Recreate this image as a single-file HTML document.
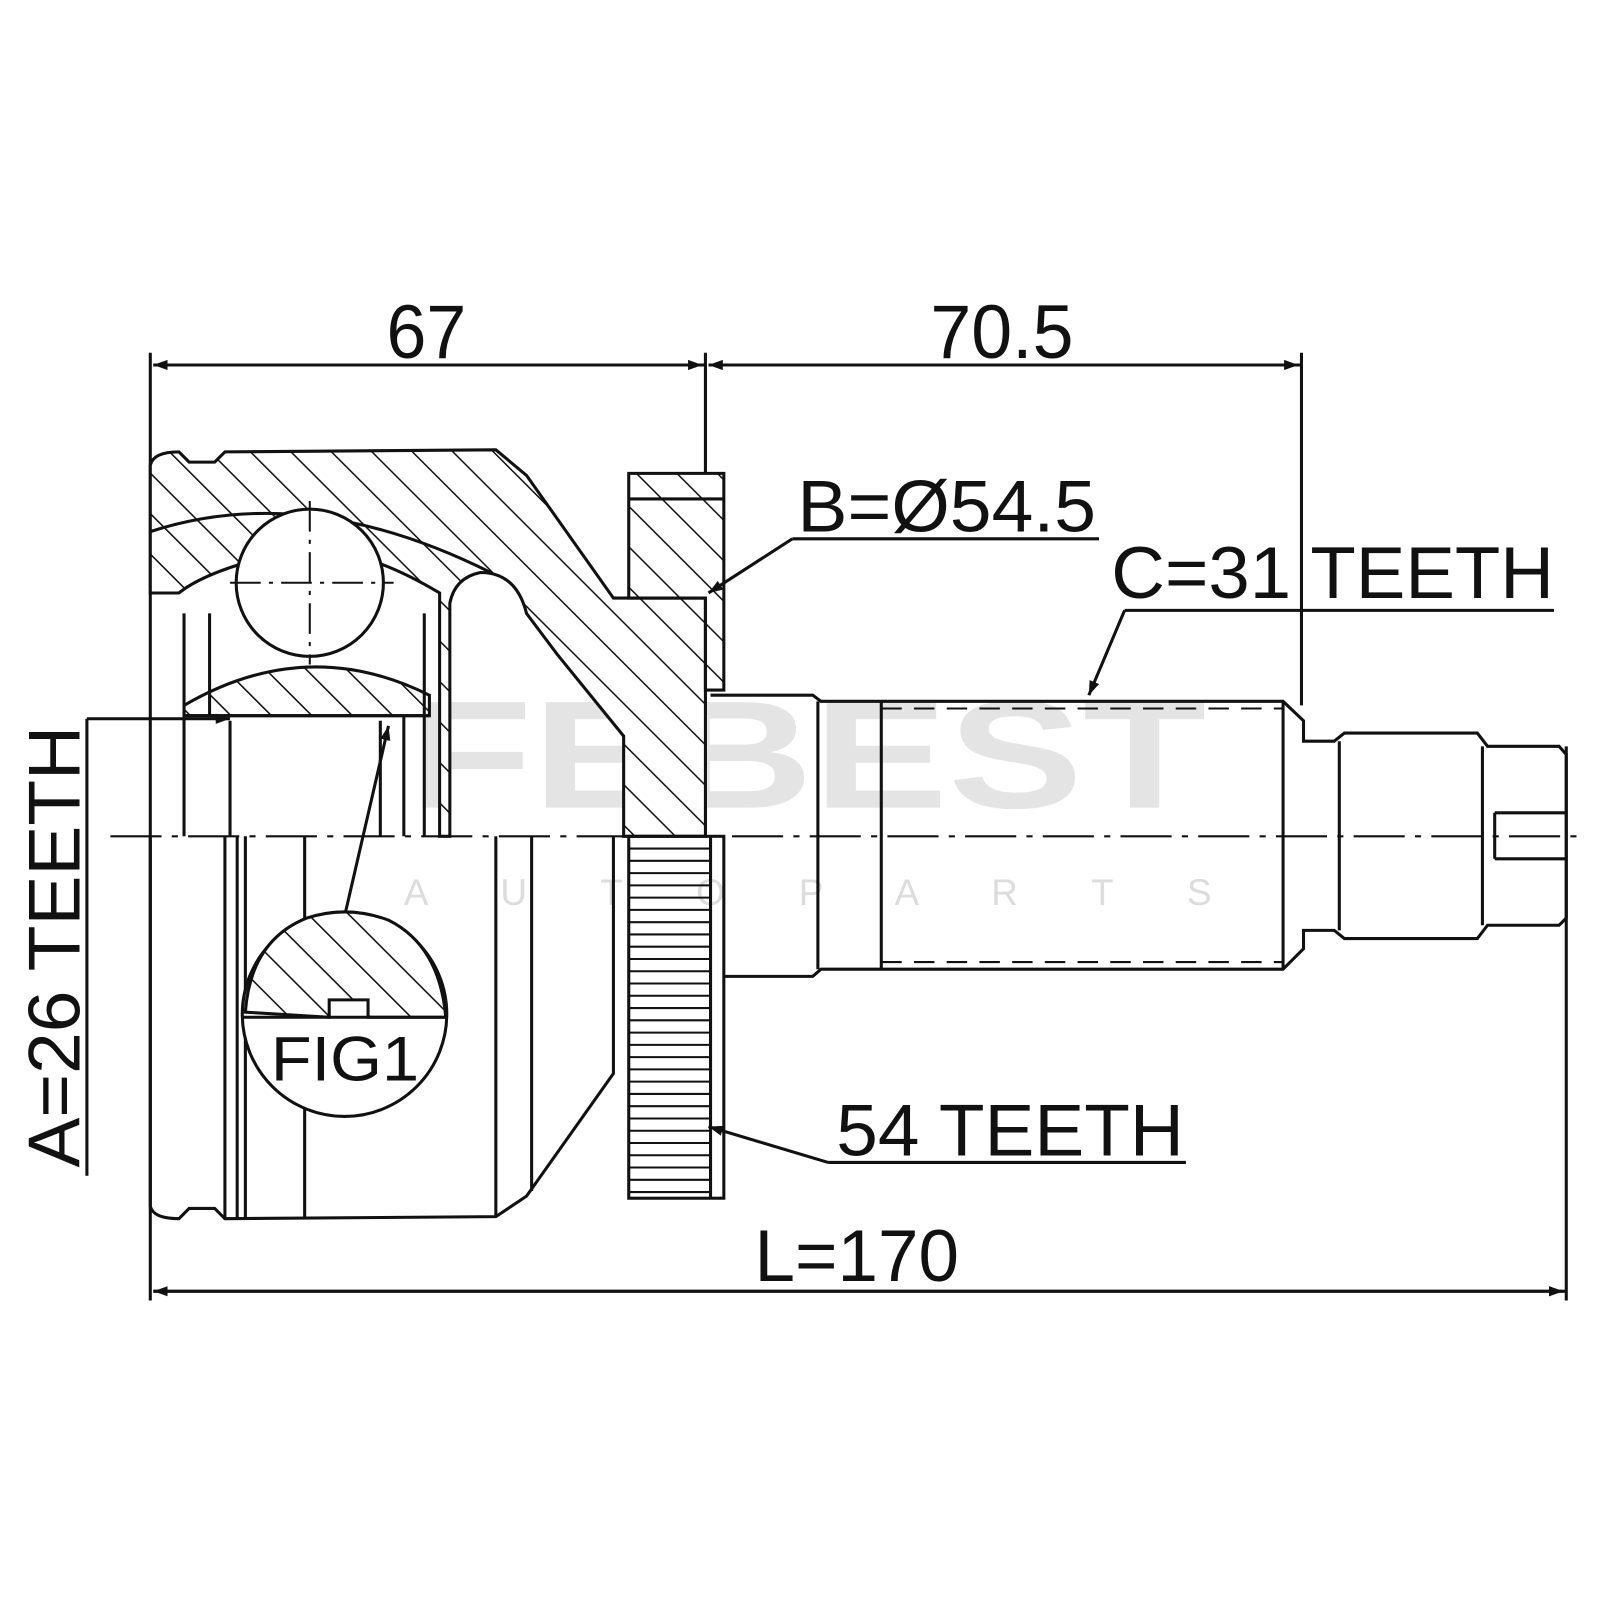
<!DOCTYPE html>
<html><head><meta charset="utf-8"><style>
html,body{margin:0;padding:0;background:#fff;}
svg{display:block}
text{font-family:"Liberation Sans",Arial,sans-serif;fill:#111}
</style></head><body>
<svg width="1600" height="1600" viewBox="0 0 1565 1565" xmlns="http://www.w3.org/2000/svg">
<defs>
<pattern id="h" width="28" height="28" patternUnits="userSpaceOnUse" patternTransform="rotate(-45)">
<rect width="28" height="28" fill="#fff"/><line x1="0" y1="0" x2="0" y2="28" stroke="#111" stroke-width="3"/>
</pattern>
<marker id="a" markerWidth="14" markerHeight="10" refX="14" refY="5" orient="auto" markerUnits="userSpaceOnUse" viewBox="0 0 14 10">
<path d="M0,0 L14,5 L0,10 z" fill="#111"/></marker>
</defs>
<text x="400" y="790" font-size="150" font-weight="bold" style="fill:#e4e4e4" textLength="780" lengthAdjust="spacingAndGlyphs">FEBEST</text>
<text x="395" y="885" font-size="36" style="fill:#dcdcdc" textLength="790" lengthAdjust="spacing">A U T O P A R T S</text>

<g stroke="#111" stroke-width="3" fill="none">
<line x1="147" y1="345" x2="147" y2="1272"/>
<line x1="690" y1="345" x2="690" y2="590"/>
<line x1="1273" y1="345" x2="1273" y2="690"/>
<line x1="1532" y1="730" x2="1532" y2="1272"/>
<path d="M147,455 Q150,442 175,442 L185,452 L210,452 L220,442 L485,440 L515,465 L600,585 L690,585 L690,818 L610,818 L610,720 L545,640 L515,600 Q505,560 470,560 Q445,565 440,590 L440,818 L430,818 L430,580 Q330,520 260,545 Q200,560 175,580 L147,580 Z" fill="url(#h)"/>
<path d="M147,520 Q300,470 480,560" />
<path d="M180,690 Q300,620 420,680 L420,700 L180,700 Z" fill="url(#h)"/>
<circle cx="303" cy="570" r="72" fill="#fff"/>
<line x1="225" y1="570" x2="385" y2="570" stroke-width="2" stroke-dasharray="30,8,4,8"/>
<line x1="303" y1="490" x2="303" y2="650" stroke-width="2" stroke-dasharray="30,8,4,8"/>
<line x1="180" y1="600" x2="180" y2="818"/><line x1="205" y1="600" x2="205" y2="700"/>
<line x1="415" y1="600" x2="415" y2="818"/><line x1="395" y1="700" x2="395" y2="818"/>
<line x1="225" y1="705" x2="225" y2="818"/><line x1="372" y1="705" x2="372" y2="818"/>
<line x1="180" y1="700" x2="420" y2="700"/>
<path d="M615,463 L708,463 L708,675 L690,675 L690,585 L615,585 Z" fill="url(#h)"/>
<line x1="615" y1="488" x2="708" y2="488"/>
<path d="M147,818 L147,1180 Q150,1192 175,1192 L185,1182 L210,1182 L220,1192 L485,1190 L515,1170 L600,1050 L600,818"/>
<line x1="220" y1="818" x2="220" y2="1192"/><line x1="232" y1="818" x2="232" y2="1192"/><line x1="240" y1="818" x2="240" y2="1192"/>
<line x1="298" y1="818" x2="298" y2="1192"/><line x1="485" y1="818" x2="485" y2="1190"/><line x1="520" y1="818" x2="520" y2="1165"/>
<g stroke-width="2">
<path d="M615,830 H695 M615,842 H695 M615,854 H695 M615,866 H695 M615,878 H695 M615,890 H695 M615,902 H695 M615,914 H695 M615,926 H695 M615,938 H695 M615,950 H695 M615,962 H695 M615,974 H695 M615,986 H695 M615,998 H695 M615,1010 H695 M615,1022 H695 M615,1034 H695 M615,1046 H695 M615,1058 H695 M615,1070 H695 M615,1082 H695 M615,1094 H695 M615,1106 H695 M615,1118 H695 M615,1130 H695 M615,1142 H695 M615,1154 H695 M615,1166 H695"/>
</g>
<rect x="615" y="818" width="93" height="354"/>
<line x1="695" y1="818" x2="695" y2="1172"/>
<path d="M695,680 L795,680 L803,686 L862,686 L1255,686 L1275,705 L1275,725 L1305,725 L1315,717 L1445,717 L1455,730 L1525,730 L1532,738 L1532,898 L1525,905 L1455,905 L1445,918 L1315,918 L1305,910 L1275,910 L1275,928 L1255,948 L862,948 L803,948 L795,955 L708,955"/>
<line x1="800" y1="686" x2="800" y2="948"/><line x1="862" y1="686" x2="862" y2="948"/>
<line x1="1255" y1="686" x2="1255" y2="948"/><line x1="1310" y1="725" x2="1310" y2="910"/>
<line x1="1450" y1="730" x2="1450" y2="905"/><line x1="1462" y1="795" x2="1532" y2="795"/><line x1="1462" y1="840" x2="1532" y2="840"/><line x1="1462" y1="795" x2="1462" y2="840"/>
<line x1="862" y1="693" x2="1255" y2="693" stroke-width="2" stroke-dasharray="20,12"/>
<line x1="862" y1="941" x2="1255" y2="941" stroke-width="2" stroke-dasharray="20,12"/>
<line x1="108" y1="818" x2="1548" y2="818" stroke-width="2" stroke-dasharray="50,10,6,10"/>
<circle cx="337" cy="992" r="100" fill="#fff"/>
<path d="M240,990 Q245,920 300,898 Q340,885 380,900 Q430,925 436,995 L360,995 L360,978 L322,978 L322,995 Z" fill="url(#h)"/>
<line x1="238" y1="995" x2="436" y2="995"/>
<line x1="338" y1="892" x2="380" y2="710" marker-end="url(#a)"/>
<line x1="85" y1="703" x2="85" y2="1150"/><line x1="85" y1="703" x2="225" y2="703" marker-end="url(#a)"/>
<line x1="775" y1="527" x2="1075" y2="527"/><line x1="775" y1="527" x2="693" y2="580" marker-end="url(#a)"/>
<line x1="1100" y1="597" x2="1520" y2="597"/><line x1="1100" y1="597" x2="1065" y2="680" marker-end="url(#a)"/>
<line x1="810" y1="1137" x2="1160" y2="1137"/><line x1="810" y1="1137" x2="693" y2="1102" marker-end="url(#a)"/>
</g>
<line x1="150" y1="357" x2="687" y2="357" stroke="#111" stroke-width="3" marker-end="url(#a)"/>
<line x1="690" y1="357" x2="150" y2="357" stroke="#111" stroke-width="3" marker-end="url(#a)"/>
<line x1="693" y1="357" x2="1270" y2="357" stroke="#111" stroke-width="3" marker-end="url(#a)"/>
<line x1="1273" y1="357" x2="693" y2="357" stroke="#111" stroke-width="3" marker-end="url(#a)"/>
<line x1="150" y1="1263" x2="1529" y2="1263" stroke="#111" stroke-width="3" marker-end="url(#a)"/>
<line x1="1532" y1="1263" x2="150" y2="1263" stroke="#111" stroke-width="3" marker-end="url(#a)"/>
<text x="378" y="350" font-size="74" textLength="78" lengthAdjust="spacingAndGlyphs">67</text>
<text x="910" y="350" font-size="74" textLength="140" lengthAdjust="spacingAndGlyphs">70.5</text>
<text x="738" y="1253" font-size="72" textLength="200" lengthAdjust="spacingAndGlyphs">L=170</text>
<text x="780" y="520" font-size="72" textLength="292" lengthAdjust="spacingAndGlyphs">B=Ø54.5</text>
<text x="1087" y="585" font-size="72" textLength="433" lengthAdjust="spacingAndGlyphs">C=31 TEETH</text>
<text x="818" y="1130" font-size="72" textLength="340" lengthAdjust="spacingAndGlyphs">54 TEETH</text>
<text x="265" y="1057" font-size="62" textLength="145" lengthAdjust="spacingAndGlyphs">FIG1</text>
<text transform="translate(78,1142) rotate(-90)" font-size="72" textLength="432" lengthAdjust="spacingAndGlyphs">A=26 TEETH</text>
</svg>
</body></html>
